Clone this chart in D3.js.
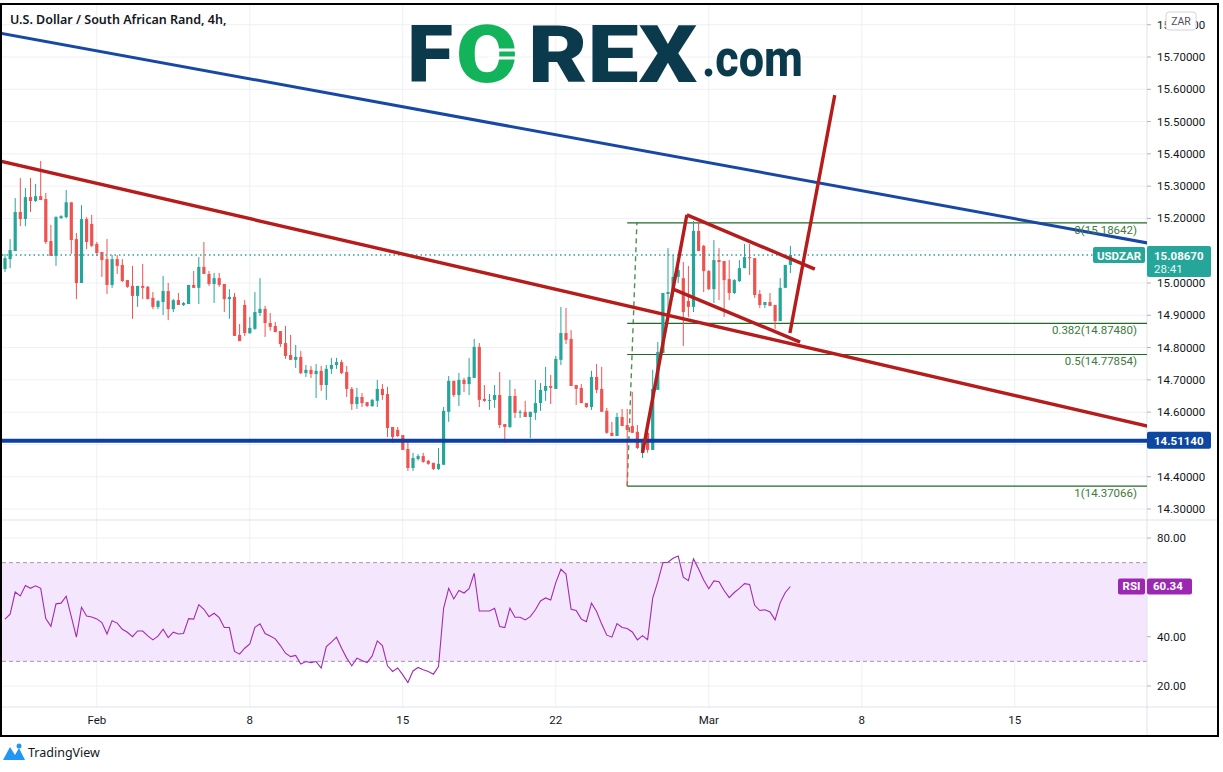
<!DOCTYPE html>
<html><head><meta charset="utf-8">
<script src="https://cdn.jsdelivr.net/npm/d3@7"></script>
<style>body{margin:0;background:#fff;} svg{display:block;font-family:Roboto,"Noto Sans",sans-serif;}</style>
</head><body><svg id="c" width="1223" height="772"></svg>
<script>
// ---------- DATA ----------
const opens = [15.043,15.074,15.099,15.220,15.198,15.266,15.254,15.269,15.260,15.130,15.084,15.201,15.204,15.250,15.136,15.000,15.198,15.183,15.121,15.096,15.074,14.994,15.074,15.056,15.009,14.991,14.960,14.991,14.988,14.954,14.926,14.941,14.975,14.919,14.947,14.932,14.935,14.994,14.985,15.050,15.028,14.997,15.015,14.997,14.950,14.957,14.839,14.932,14.845,14.858,14.907,14.920,14.876,14.867,14.851,14.814,14.777,14.762,14.771,14.721,14.731,14.718,14.728,14.684,14.734,14.746,14.755,14.724,14.672,14.625,14.647,14.631,14.619,14.635,14.672,14.656,14.554,14.545,14.529,14.486,14.427,14.455,14.464,14.449,14.443,14.424,14.437,14.601,14.697,14.653,14.700,14.687,14.706,14.802,14.641,14.635,14.638,14.653,14.563,14.554,14.650,14.598,14.601,14.585,14.598,14.628,14.666,14.681,14.672,14.762,14.845,14.827,14.684,14.675,14.628,14.616,14.709,14.672,14.604,14.536,14.526,14.585,14.560,14.557,14.539,14.474,14.536,14.483,14.669,14.783,14.966,14.972,15.019,15.015,14.944,14.926,15.161,15.115,15.037,14.981,15.071,15.068,15.012,14.969,15.006,15.046,15.080,15.077,14.966,14.932,14.941,14.932,14.882,14.985,15.056];
const highs = [15.090,15.136,15.263,15.325,15.294,15.325,15.307,15.378,15.279,15.180,15.207,15.210,15.288,15.250,15.155,15.241,15.204,15.211,15.127,15.096,15.136,15.087,15.087,15.074,15.009,15.053,14.991,15.059,14.991,14.972,14.947,15.022,15.000,14.950,14.969,14.941,14.994,15.037,15.080,15.127,15.037,15.031,15.031,14.997,14.981,14.969,14.873,14.947,14.895,14.972,15.015,14.929,14.907,14.879,14.851,14.867,14.839,14.808,14.789,14.746,14.743,14.749,14.743,14.746,14.768,14.768,14.762,14.743,14.678,14.675,14.659,14.631,14.641,14.700,14.687,14.678,14.554,14.554,14.529,14.511,14.474,14.470,14.474,14.452,14.443,14.489,14.616,14.712,14.697,14.721,14.706,14.768,14.827,14.814,14.684,14.656,14.684,14.724,14.563,14.700,14.672,14.607,14.635,14.601,14.700,14.690,14.740,14.715,14.774,14.926,14.923,14.854,14.684,14.687,14.628,14.728,14.749,14.740,14.613,14.570,14.598,14.610,14.610,14.663,14.560,14.505,14.560,14.731,14.817,14.969,15.108,15.087,15.070,15.065,15.053,15.192,15.189,15.118,15.040,15.133,15.108,15.068,15.071,15.012,15.071,15.121,15.121,15.077,14.978,14.941,14.969,14.932,15.015,15.056,15.115];
const lows = [15.034,15.046,15.099,15.176,15.176,15.220,15.251,15.257,15.121,15.084,15.053,15.198,15.201,15.090,14.950,15.000,15.105,15.111,15.084,15.019,14.966,14.985,15.028,15.003,14.985,14.889,14.926,14.950,14.950,14.919,14.919,14.901,14.885,14.910,14.932,14.929,14.935,14.985,14.935,15.028,14.991,14.938,14.988,14.910,14.889,14.836,14.820,14.836,14.842,14.855,14.898,14.833,14.852,14.848,14.802,14.765,14.762,14.737,14.718,14.709,14.706,14.644,14.666,14.638,14.718,14.734,14.718,14.647,14.607,14.610,14.616,14.616,14.616,14.616,14.638,14.523,14.505,14.523,14.483,14.418,14.418,14.450,14.443,14.437,14.421,14.421,14.437,14.570,14.647,14.619,14.662,14.653,14.706,14.616,14.632,14.607,14.613,14.551,14.505,14.551,14.582,14.582,14.585,14.520,14.576,14.604,14.635,14.625,14.672,14.746,14.811,14.681,14.622,14.628,14.613,14.607,14.659,14.601,14.533,14.526,14.526,14.557,14.371,14.536,14.486,14.458,14.474,14.483,14.669,14.783,14.901,14.957,15.000,14.805,14.895,14.910,15.099,14.972,14.978,14.938,14.947,14.895,14.947,14.966,15.003,15.046,15.025,14.954,14.923,14.923,14.929,14.858,14.882,14.985,15.031];
const closes = [15.077,15.102,15.220,15.198,15.266,15.254,15.269,15.257,15.127,15.084,15.204,15.207,15.250,15.133,15.000,15.198,15.127,15.115,15.093,15.071,14.994,15.074,15.053,15.006,14.988,14.960,14.991,14.985,14.950,14.926,14.944,14.975,14.919,14.947,14.932,14.938,14.994,14.985,15.050,15.028,14.997,15.015,14.994,14.950,14.957,14.836,14.820,14.845,14.861,14.910,14.920,14.876,14.864,14.848,14.811,14.774,14.762,14.771,14.721,14.731,14.718,14.728,14.684,14.734,14.746,14.755,14.721,14.672,14.625,14.647,14.628,14.619,14.638,14.672,14.653,14.551,14.523,14.526,14.483,14.427,14.458,14.464,14.446,14.440,14.424,14.440,14.604,14.697,14.653,14.700,14.687,14.709,14.802,14.638,14.635,14.638,14.653,14.560,14.554,14.650,14.598,14.601,14.585,14.601,14.628,14.669,14.681,14.675,14.765,14.845,14.824,14.681,14.672,14.628,14.616,14.709,14.669,14.601,14.536,14.526,14.585,14.557,14.545,14.536,14.489,14.505,14.483,14.672,14.786,14.969,14.972,15.019,15.040,14.910,14.926,15.161,15.099,15.037,14.981,15.071,15.065,15.009,14.969,15.009,15.046,15.080,15.077,14.963,14.932,14.941,14.929,14.882,14.985,15.056,15.087];
const rsi = [47.1,49.1,58.1,56.5,60.7,59.6,60.6,59.6,47.3,44.2,53.3,53.6,56.4,48.1,39.8,51.9,48.4,48.0,47.2,45.7,41.1,46.5,45.5,43.0,41.8,40.0,42.3,42.3,40.3,38.7,40.2,43.0,39.6,41.8,41.1,41.3,47.3,47.1,53.0,51.1,48.1,49.5,47.7,43.7,43.7,34.0,32.9,35.3,37.1,43.8,45.2,41.3,40.3,39.1,36.4,33.3,31.9,32.4,28.9,29.9,29.5,29.9,27.3,36.0,37.8,39.8,35.3,31.3,28.2,31.3,30.3,29.5,32.2,38.3,36.4,28.2,25.9,27.3,24.5,21.4,26.1,27.5,26.6,25.9,24.8,27.9,51.5,59.6,55.3,58.7,57.7,59.5,65.7,50.4,50.4,50.4,51.5,44.1,43.7,51.5,47.9,47.9,46.8,48.1,50.9,54.5,55.7,54.9,61.9,67.3,65.4,51.1,50.6,47.1,46.1,53.6,50.2,45.1,40.6,39.8,45.3,43.7,43.3,41.9,38.7,40.4,38.8,55.6,62.3,70.0,70.2,71.8,72.7,64.1,62.7,71.5,67.4,63.0,59.4,62.6,62.3,58.7,55.8,57.9,59.6,61.5,61.2,52.7,50.6,50.9,50.0,46.8,53.8,57.9,60.34];
const dateTickIdx = [18,48,78,108,138,168,198];
const dateTickLabels = ["Feb","8","15","22","Mar","8","15"];
const priceTicks = [15.8,15.7,15.6,15.5,15.4,15.3,15.2,15.1,15.0,14.9,14.8,14.7,14.6,14.5,14.4,14.3];
const rsiTicks = [80,60,40,20];
const fibLevels = [0,0.382,0.5,1];
const fibHigh = 15.18642, fibLow = 14.37066;
const fibStartIdx = 122;
const lastPrice = 15.0867, lastTime = "28:41", supportPrice = 14.5114, lastRsi = 60.34;
const symbol = "USDZAR";
// drawn lines as [candle index, price] anchors
const blueTrend = [[-1,15.774],[224,15.124]];
const redTrend = [[-1,15.378],[224,14.557]];
const flagPole = [[125.0,14.474],[133.7,15.211]];
const flagTop = [[133.7,15.211],[158.8,15.043]];
const flagBottom = [[131.0,14.981],[155.9,14.817]];
const projection = [[153.9,14.845],[162.7,15.582]];
const fibDiag = [[122.0,14.37066],[123.9,15.18642]];

// ---------- LAYOUT ----------
const L = 2, R = 1147, T = 5, PB = 520, RB = 707, AB = 735, FR = 1217;
const svg = d3.select("#c");
const x = d3.scaleLinear().domain([0,154]).range([5,790.4]);
const y = d3.scaleLinear().domain([14.3,15.7]).range([509,57]);
const yr = d3.scaleLinear().domain([20,80]).range([686,538]);
const teal = "#26a69a", red = "#ef5350", dred = "#b71c1c", blue = "#1848a6", green = "#1e6b23";
const line = d3.line().x(d=>x(d[0])).y(d=>y(d[1]));
// axis labels hidden under the value boxes are not drawn
const covered = (v, c, h) => Math.abs(v - c) < h;

svg.append("defs").append("clipPath").attr("id","pc").append("rect").attr("x",L).attr("y",T).attr("width",R-L).attr("height",PB-T);
svg.select("defs").append("clipPath").attr("id","rc").append("rect").attr("x",L).attr("y",PB).attr("width",R-L).attr("height",RB-PB);

// grid
const g = svg.append("g");
g.selectAll(".hg").data(priceTicks).join("line").attr("x1",L).attr("x2",R).attr("y1",d=>y(d)).attr("y2",d=>y(d)).attr("stroke","#eef0f4");
g.selectAll(".rg").data(rsiTicks).join("line").attr("x1",L).attr("x2",R).attr("y1",d=>yr(d)).attr("y2",d=>yr(d)).attr("stroke","#eef0f4");
g.selectAll(".vg").data(dateTickIdx).join("line").attr("x1",d=>x(d)).attr("x2",d=>x(d)).attr("y1",T).attr("y2",RB).attr("stroke","#eef0f4");

// RSI band
svg.append("rect").attr("x",L).attr("width",R-L).attr("y",yr(70)).attr("height",yr(30)-yr(70)).attr("fill","#f4e6fd");
[70,30].forEach(v=>svg.append("line").attr("x1",L).attr("x2",R).attr("y1",yr(v)).attr("y2",yr(v)).attr("stroke","#a793ad").attr("stroke-dasharray","4,3"));
svg.append("path").attr("clip-path","url(#rc)").datum(rsi).attr("fill","none").attr("stroke","#a12bb5").attr("stroke-width",1.1)
  .attr("d",d3.line().x((d,i)=>x(i)).y(d=>yr(d)));

// pane separators & axis line
svg.append("line").attr("x1",L).attr("x2",FR).attr("y1",PB).attr("y2",PB).attr("stroke","#e0e3eb");
svg.append("line").attr("x1",L).attr("x2",FR).attr("y1",RB).attr("y2",RB).attr("stroke","#e0e3eb");
svg.append("line").attr("x1",R).attr("x2",R).attr("y1",T).attr("y2",AB).attr("stroke","#e0e3eb");

// fib levels
const pc = svg.append("g").attr("clip-path","url(#pc)");
const fibPrice = l => fibHigh - l*(fibHigh-fibLow);
pc.selectAll(".fib").data(fibLevels).join("line").attr("x1",x(fibStartIdx)).attr("x2",R).attr("y1",d=>y(fibPrice(d))).attr("y2",d=>y(fibPrice(d))).attr("stroke",green).attr("stroke-width",1.2);
pc.append("path").datum(fibDiag).attr("d",line).attr("stroke","#2e7d32").attr("stroke-width",1.4).attr("stroke-dasharray","5,4").attr("fill","none").attr("opacity",0.85);
svg.selectAll(".fibt").data(fibLevels).join("text").attr("x",1137).attr("y",d=>y(fibPrice(d))+11).attr("text-anchor","end")
  .attr("font-size",11.5).attr("fill","#3c7a3e").text(d=>`${d}(${fibPrice(d).toFixed(5)})`);

// candles
const idx = d3.range(opens.length);
const cg = pc.append("g");
cg.selectAll(".wick").data(idx).join("line").attr("x1",i=>x(i)).attr("x2",i=>x(i)).attr("y1",i=>y(highs[i])).attr("y2",i=>y(lows[i]))
  .attr("stroke",i=>closes[i]>=opens[i]?teal:red).attr("stroke-width",1);
cg.selectAll(".body").data(idx).join("rect").attr("x",i=>x(i)-1.6).attr("width",3.2)
  .attr("y",i=>y(Math.max(opens[i],closes[i]))).attr("height",i=>Math.max(1,Math.abs(y(opens[i])-y(closes[i]))))
  .attr("fill",i=>closes[i]>=opens[i]?teal:red);

// current price dotted line
pc.append("line").attr("x1",L).attr("x2",1093).attr("y1",y(lastPrice)).attr("y2",y(lastPrice)).attr("stroke",teal).attr("stroke-width",1.5).attr("stroke-dasharray","1.5,3");

// trend lines
pc.append("path").datum(blueTrend).attr("d",line).attr("stroke",blue).attr("stroke-width",3).attr("fill","none");
pc.append("path").datum([[-1,supportPrice],[224,supportPrice]]).attr("d",line).attr("stroke","#0d3f9f").attr("stroke-width",4).attr("fill","none");
[redTrend,flagPole,flagTop,flagBottom,projection].forEach(s=>
  pc.append("path").datum(s).attr("d",line).attr("stroke",dred).attr("stroke-width",3.4).attr("fill","none").attr("stroke-linecap","butt"));

// price axis
const pLabels = priceTicks.filter(d=>!covered(d,lastPrice,0.03) && !covered(d,supportPrice,0.03));
const rLabels = rsiTicks.filter(d=>!covered(d,lastRsi,3));
const ax = svg.append("g").attr("font-size",11.5).attr("fill","#131722");
ax.selectAll(".pt").data(pLabels).join("text").attr("x",1157).attr("y",d=>y(d)+4).text(d=>d.toFixed(5));
ax.selectAll(".ptk").data(priceTicks).join("line").attr("x1",R).attr("x2",R+4).attr("y1",d=>y(d)).attr("y2",d=>y(d)).attr("stroke","#b2b5be");
ax.selectAll(".rt").data(rLabels).join("text").attr("x",1157).attr("y",d=>yr(d)+4).text(d=>d.toFixed(2));
ax.selectAll(".rtk").data(rsiTicks).join("line").attr("x1",R).attr("x2",R+4).attr("y1",d=>yr(d)).attr("y2",d=>yr(d)).attr("stroke","#b2b5be");
// time axis
svg.selectAll(".dt").data(dateTickIdx).join("text").attr("x",d=>x(d)).attr("y",724).attr("text-anchor","middle").attr("font-size",11.5).attr("fill","#131722")
  .text((d,i)=>dateTickLabels[i]);

// labels/boxes
svg.append("rect").attr("x",1166).attr("y",12).attr("width",30).attr("height",18).attr("rx",3).attr("fill","#fff").attr("stroke","#d1d4dc");
svg.append("text").attr("x",1181).attr("y",25).attr("text-anchor","middle").attr("font-size",10.5).attr("fill","#50535e").text("ZAR");

svg.append("rect").attr("x",1093).attr("y",y(lastPrice)-8).attr("width",52).attr("height",16).attr("rx",2).attr("fill",teal);
svg.append("text").attr("x",1119).attr("y",y(lastPrice)+4.5).attr("text-anchor","middle").attr("font-size",11.5).attr("font-weight","bold").attr("fill","#fff").text(symbol);
svg.append("rect").attr("x",R).attr("y",y(lastPrice)-9).attr("width",64).attr("height",31).attr("rx",2).attr("fill",teal);
svg.append("text").attr("x",1154).attr("y",y(lastPrice)+4.5).attr("font-size",11.5).attr("font-weight","bold").attr("fill","#fff").text(lastPrice.toFixed(5));
svg.append("text").attr("x",1154).attr("y",y(lastPrice)+18).attr("font-size",11.5).attr("fill","#e6f6f4").text(lastTime);

svg.append("rect").attr("x",R).attr("y",y(supportPrice)-9).attr("width",64).attr("height",17).attr("rx",2).attr("fill","#0d47a1");
svg.append("text").attr("x",1154).attr("y",y(supportPrice)+4).attr("font-size",11.5).attr("font-weight","bold").attr("fill","#fff").text(supportPrice.toFixed(5));

svg.append("rect").attr("x",1118).attr("y",yr(lastRsi)-8).attr("width",27).attr("height",16).attr("rx",2).attr("fill","#9c27b0");
svg.append("text").attr("x",1131.5).attr("y",yr(lastRsi)+4).attr("text-anchor","middle").attr("font-size",11.5).attr("font-weight","bold").attr("fill","#fff").text("RSI");
svg.append("rect").attr("x",R).attr("y",yr(lastRsi)-8).attr("width",45).attr("height",16).attr("rx",2).attr("fill","#9c27b0");
svg.append("text").attr("x",1153).attr("y",yr(lastRsi)+4).attr("font-size",11.5).attr("font-weight","bold").attr("fill","#fff").text(lastRsi.toFixed(2));

// title
svg.append("text").attr("x",10).attr("y",24).attr("font-family","'Noto Sans',sans-serif").attr("font-size",12.5).attr("font-weight",600).attr("fill","#131722")
  .text("U.S. Dollar / South African Rand, 4h,");

// FOREX.com logo
const lg = svg.append("g").attr("font-family","Roboto,'DejaVu Sans',sans-serif").attr("font-weight",900);
lg.append("text").attr("x",407).attr("y",82).attr("font-size",80).attr("fill","#0b3a4d").attr("textLength",46).attr("lengthAdjust","spacingAndGlyphs").text("F");
lg.append("text").attr("x",456).attr("y",82).attr("font-size",80).attr("fill","#12b35a").attr("textLength",62).attr("lengthAdjust","spacingAndGlyphs").text("O");
lg.append("text").attr("x",528).attr("y",82).attr("font-size",80).attr("fill","#0b3a4d").attr("textLength",169).attr("lengthAdjust","spacingAndGlyphs").text("REX");
lg.append("text").attr("x",702).attr("y",76).attr("font-size",52).attr("font-weight",800).attr("fill","#0b3a4d").attr("textLength",101).attr("lengthAdjust","spacingAndGlyphs").text(".com");
lg.append("line").attr("x1",488).attr("x2",516).attr("y1",50).attr("y2",50).attr("stroke","#fff").attr("stroke-width",3);
lg.append("line").attr("x1",488).attr("x2",516).attr("y1",58).attr("y2",58).attr("stroke","#fff").attr("stroke-width",3);

// frame
svg.append("rect").attr("x",L-1).attr("y",T-1).attr("width",FR-L+2).attr("height",AB-T+2).attr("fill","none").attr("stroke","#000").attr("stroke-width",2);

// TradingView mark
const tv = svg.append("g");
tv.append("path").attr("d","M3,760 L10,747 L15,755 L19,748 L25,760 Z").attr("fill","#2196f3");
tv.append("circle").attr("cx",19).attr("cy",746).attr("r",2.5).attr("fill","#2196f3");
tv.append("text").attr("x",28).attr("y",757).attr("font-size",12.5).attr("fill","#131722").attr("font-family","'Noto Sans',sans-serif").text("TradingView");
</script></body></html>
